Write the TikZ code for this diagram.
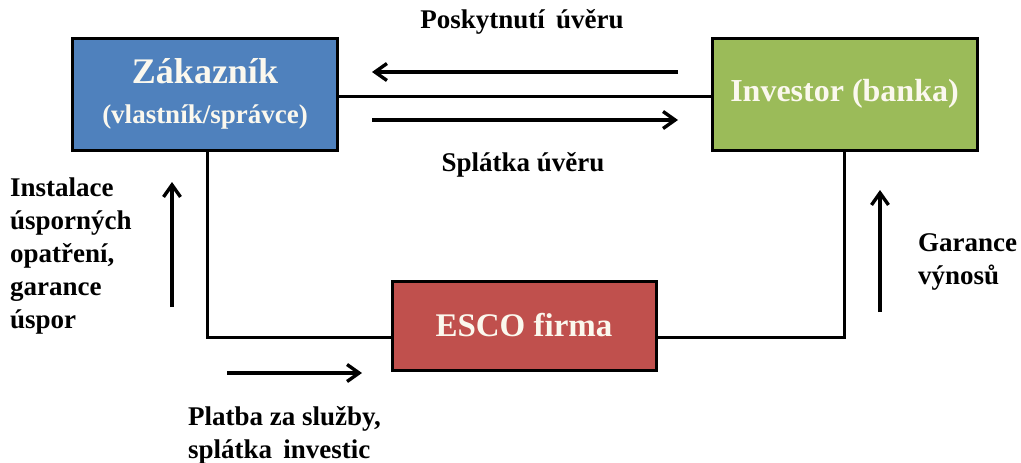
\documentclass[tikz,border=0pt]{standalone}
\usepackage{fontspec}
\setmainfont{Liberation Serif}
\usetikzlibrary{arrows.meta}
\definecolor{zakblue}{HTML}{4F81BD}
\definecolor{invgreen}{HTML}{9BBB59}
\definecolor{escored}{HTML}{C0504D}
\definecolor{boxtext}{HTML}{FBF8EE}
\begin{document}
\begin{tikzpicture}[x=1pt,y=-1pt,
  box/.style={draw=black,line width=3pt,inner sep=0pt,align=center,
    text=boxtext,font=\bfseries\fontsize{32}{37}\selectfont},
  link/.style={line width=3pt},
  flow/.style={line width=3.4pt,-{Straight Barb[length=12pt,width=17pt,line width=3.4pt]}},
  lbl/.style={inner sep=0pt,align=left,font=\bfseries\fontsize{27}{33}\selectfont}]
\useasboundingbox (0,0) rectangle (1021,463);
% the three parties
\node[box,fill=zakblue,minimum width=265pt,minimum height=112pt] (zak) at (205,94)
  {{\fontsize{36}{40}\selectfont Zákazník}\\[3pt]{\fontsize{27}{33}\selectfont(vlastník/správce)}};
\node[box,fill=invgreen,minimum width=265pt,minimum height=112pt] (inv) at (844.5,94)
  {Investor (banka)};
\node[box,fill=escored,minimum width=264pt,minimum height=89pt,
  font=\bfseries\fontsize{33}{37}\selectfont] (esco) at (524,325.5)
  {ESCO firma};
% contract links between the parties
\draw[link] ([yshift=-2pt]zak.east) -- ([yshift=-2pt]inv.west);
\draw[link] ([xshift=2pt]zak.south) |- ([yshift=-12pt]esco.west);
\draw[link] ([yshift=-12pt]esco.east) -| (inv.south);
% money and service flows
\coordinate (loanS) at (678,72);  \coordinate (loanE) at (372,72);
\coordinate (repS) at (372,120);  \coordinate (repE) at (678,120);
\coordinate (instS) at (172,307); \coordinate (instE) at (172,182);
\coordinate (yldS) at (880,312);  \coordinate (yldE) at (880,190);
\coordinate (payS) at (227,373);  \coordinate (payE) at (362,373);
\draw[flow] (loanS) -- (loanE);
\draw[flow] (repS) -- (repE);
\draw[flow] (instS) -- (instE);
\draw[flow] (yldS) -- (yldE);
\draw[flow] (payS) -- (payE);
% labels of the flows
\node[lbl] (tLoan) at (522,22) {Poskytnutí\, úvěru};
\node[lbl] (tRep) at (523,165) {Splátka úvěru};
\node[lbl,anchor=north west] (tInst) at (10,178)
  {Instalace\\úsporných\\opatření,\\garance\\úspor};
\node[lbl,anchor=north west] (tYld) at (918,233) {Garance\\výnosů};
\node[lbl,anchor=north west] (tPay) at (188,406) {Platba za služby,\\splátka\, investic};
\end{tikzpicture}
\end{document}
